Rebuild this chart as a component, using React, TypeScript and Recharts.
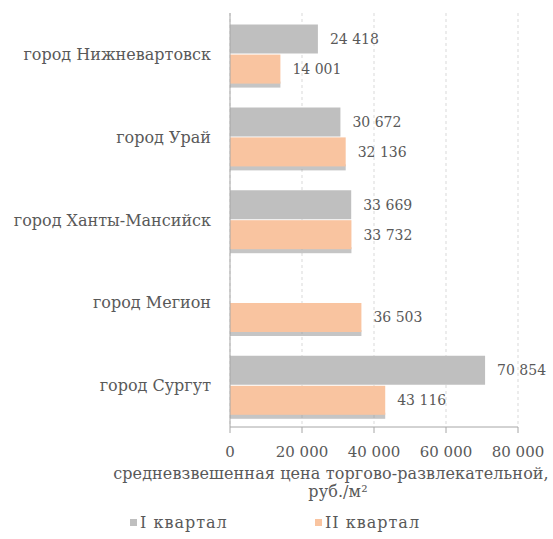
import {
  Bar,
  BarChart,
  CartesianGrid,
  LabelList,
  Legend,
  XAxis,
  YAxis,
  Label,
} from "recharts";

const cities = [
  "город Нижневартовск",
  "город Урай",
  "город Ханты-Мансийск",
  "город Мегион",
  "город Сургут",
];
const quarter1 = [24418, 30672, 33669, null, 70854];
const quarter2 = [14001, 32136, 33732, 36503, 43116];
const xTicks = [0, 20000, 40000, 60000, 80000];

const FONT = "'DejaVu Serif', serif";
const TEXT = "#595959";
const GRAY = "#bfbfbf";
const PEACH = "#f9c4a0";

const data = cities.map((name, i) => ({ name, q1: quarter1[i], q2: quarter2[i] }));

function fmt(v: number | null | undefined) {
  if (v === null || v === undefined) return "";
  return String(v).replace(/\B(?=(\d{3})+(?!\d))/g, " ");
}

// peach bars sit on a soft grey shadow in the original
function ShadowBar(props: any) {
  const { x, y, width, height, fill } = props;
  if (!width || width <= 0) return null;
  return (
    <g>
      <rect x={x} y={y + height - 2} width={width} height={6} fill="#8c8c8c" opacity={0.5} />
      <rect x={x} y={y} width={width} height={height} fill={fill} />
    </g>
  );
}

// plain text so long values never wrap
function ValueLabel(props: any) {
  const { x, y, width, height, value } = props;
  if (value === null || value === undefined) return null;
  return (
    <text
      x={x + width + 12}
      y={y + height / 2}
      dominantBaseline="central"
      fontFamily={FONT}
      fontSize={14}
      fill={TEXT}
    >
      {fmt(value)}
    </text>
  );
}

function AxisTitle(props: any) {
  const vb = props.viewBox || { y: 427 };
  return (
    <text fontFamily={FONT} fontSize={16} letterSpacing={0.1} fill={TEXT} textAnchor="middle">
      <tspan x={331} y={vb.y + 52}>
        средневзвешенная цена торгово-развлекательной,
      </tspan>
      <tspan x={338} y={vb.y + 70}>
        руб./м²
      </tspan>
    </text>
  );
}

function LegendContent(props: any) {
  const items = props.payload || [];
  return (
    <div style={{ display: "flex", paddingLeft: 130, height: 24, alignItems: "center" }}>
      {items.map((it: any) => (
        <div
          key={it.value}
          style={{
            width: 185,
            display: "flex",
            alignItems: "center",
            fontFamily: FONT,
            fontSize: 16,
            letterSpacing: 1,
            color: TEXT,
          }}
        >
          <span style={{ width: 7, height: 7, background: it.color, display: "inline-block", marginRight: 3 }} />
          {it.value}
        </div>
      ))}
    </div>
  );
}

export default function App() {
  return (
    <div style={{ position: "absolute", left: 0, top: 0, width: 553, height: 539, overflow: "hidden" }}>
      <BarChart
        width={553}
        height={539}
        data={data}
        layout="vertical"
        margin={{ top: 13, right: 35, left: 0, bottom: 5 }}
        barCategoryGap="14%"
        barGap={1}
      >
        <CartesianGrid horizontal={false} strokeDasharray="3 3" stroke="#d9d9d9" />
        <XAxis
          type="number"
          domain={[0, 80000]}
          ticks={xTicks}
          tickFormatter={fmt}
          height={83}
          stroke="#a6a6a6"
          tickSize={6}
          tickMargin={13}
          tick={{ fill: TEXT, fontFamily: FONT, fontSize: 15 }}
        >
          <Label content={<AxisTitle />} />
        </XAxis>
        <YAxis
          type="category"
          dataKey="name"
          width={230}
          stroke="#a6a6a6"
          tickLine={false}
          tickSize={0}
          tickMargin={19}
          tick={{ fill: TEXT, fontFamily: FONT, fontSize: 16 }}
        />
        <Legend verticalAlign="bottom" content={<LegendContent />} />
        <Bar dataKey="q1" name="I квартал" fill={GRAY} isAnimationActive={false}>
          <LabelList dataKey="q1" content={<ValueLabel />} />
        </Bar>
        <Bar dataKey="q2" name="II квартал" fill={PEACH} shape={<ShadowBar />} isAnimationActive={false}>
          <LabelList dataKey="q2" content={<ValueLabel />} />
        </Bar>
      </BarChart>
    </div>
  );
}
